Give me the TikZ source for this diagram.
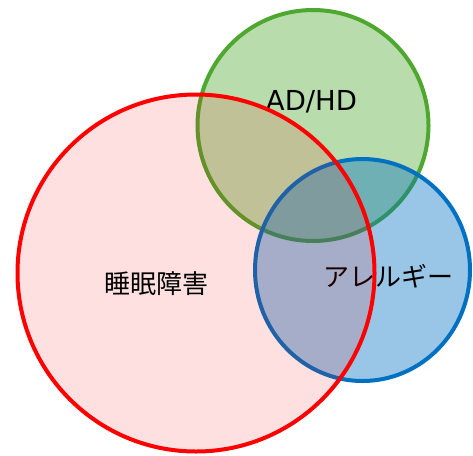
\documentclass[tikz,border=0pt]{standalone}
\usepackage{fontspec}
\usetikzlibrary{shapes.geometric}
\newfontfamily\jpfont{Noto Sans CJK JP}
\newfontfamily\latfont{DejaVu Sans}
\definecolor{vred}{HTML}{FF0000}
\definecolor{vgreen}{HTML}{4EA72E}
\definecolor{vblue}{HTML}{0070C0}
\begin{document}
\begin{tikzpicture}[x=1pt,y=-1pt,
  setbox/.style={inner sep=0pt,outer sep=0pt,line width=4pt},
  lbl/.style={inner sep=0pt,text=black}]
\useasboundingbox (0,0) rectangle (473,455);
\node[setbox,circle,draw=vgreen,fill=vgreen,fill opacity=0.4,draw opacity=1,minimum size=231pt] (adhd) at (313,125.5) {};
\node[lbl,font=\latfont\fontsize{27.5}{30}\selectfont] (tadhd) at (311.5,102) {AD/HD};
\node[setbox,ellipse,draw=vblue,fill=vblue,fill opacity=0.4,draw opacity=1,minimum width=215pt,minimum height=222pt] (allergy) at (362.5,270) {};
\node[lbl,font=\jpfont\fontsize{26}{30}\selectfont] (tallergy) at (388,276.5) {アレルギー};
\node[setbox,circle,draw=vred,fill=vred,fill opacity=0.12,draw opacity=1,minimum size=357pt] (sleep) at (196,273) {};
\node[lbl,font=\jpfont\fontsize{26}{30}\selectfont] (tsleep) at (156.5,283.5) {睡眠障害};
\end{tikzpicture}
\end{document}
